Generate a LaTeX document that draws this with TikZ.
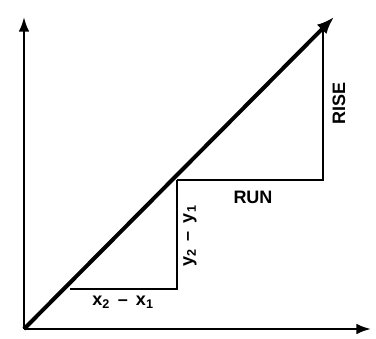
\documentclass[tikz,border=0pt]{standalone}
\usepackage{fontspec}
\setsansfont{Liberation Sans}
\usetikzlibrary{arrows.meta}

\begin{document}
\begin{tikzpicture}[x=0.75pt,y=-0.75pt,
    axis/.style={line width=1.6pt,-{Latex[length=11pt,width=8pt]}},
    leg/.style={line width=1.6pt},
    lbl/.style={font=\sffamily\bfseries\fontsize{13.5}{16}\selectfont,inner sep=1pt}]
  \useasboundingbox (0,0) rectangle (376,339);
  % Axes and the line through the origin.
  \coordinate (O)    at (24,329);
  \coordinate (Ytop) at (24,17);
  \coordinate (Xend) at (371,329);
  \coordinate (Tip)  at (334,17);
  \coordinate (P1)   at (70,289);
  \coordinate (Q1)   at (177,289);
  \coordinate (P2)   at (177,180);
  \coordinate (Q2)   at (323,180);
  \coordinate (T2)   at (323,27);

  \draw[axis] (O) -- (Ytop);
  \draw[axis] (O) -- (Xend);

  \draw[leg] (P1) -- (Q1) -- (P2);
  \draw[leg] (P2) -- (Q2) -- (T2);

  \draw[line width=3pt,-{Latex[length=13pt,width=10pt]}] (O) -- (Tip);

  \node[lbl] (xdiff) at (123,302) {x\textsubscript{2}\, --\, x\textsubscript{1}};
  \node[lbl,rotate=90] (ydiff) at (190,236) {y\textsubscript{2}\, --\, y\textsubscript{1}};
  \node[lbl] (run) at (253,197) {RUN};
  \node[lbl,rotate=90] (rise) at (339,103) {RISE};
\end{tikzpicture}
\end{document}
